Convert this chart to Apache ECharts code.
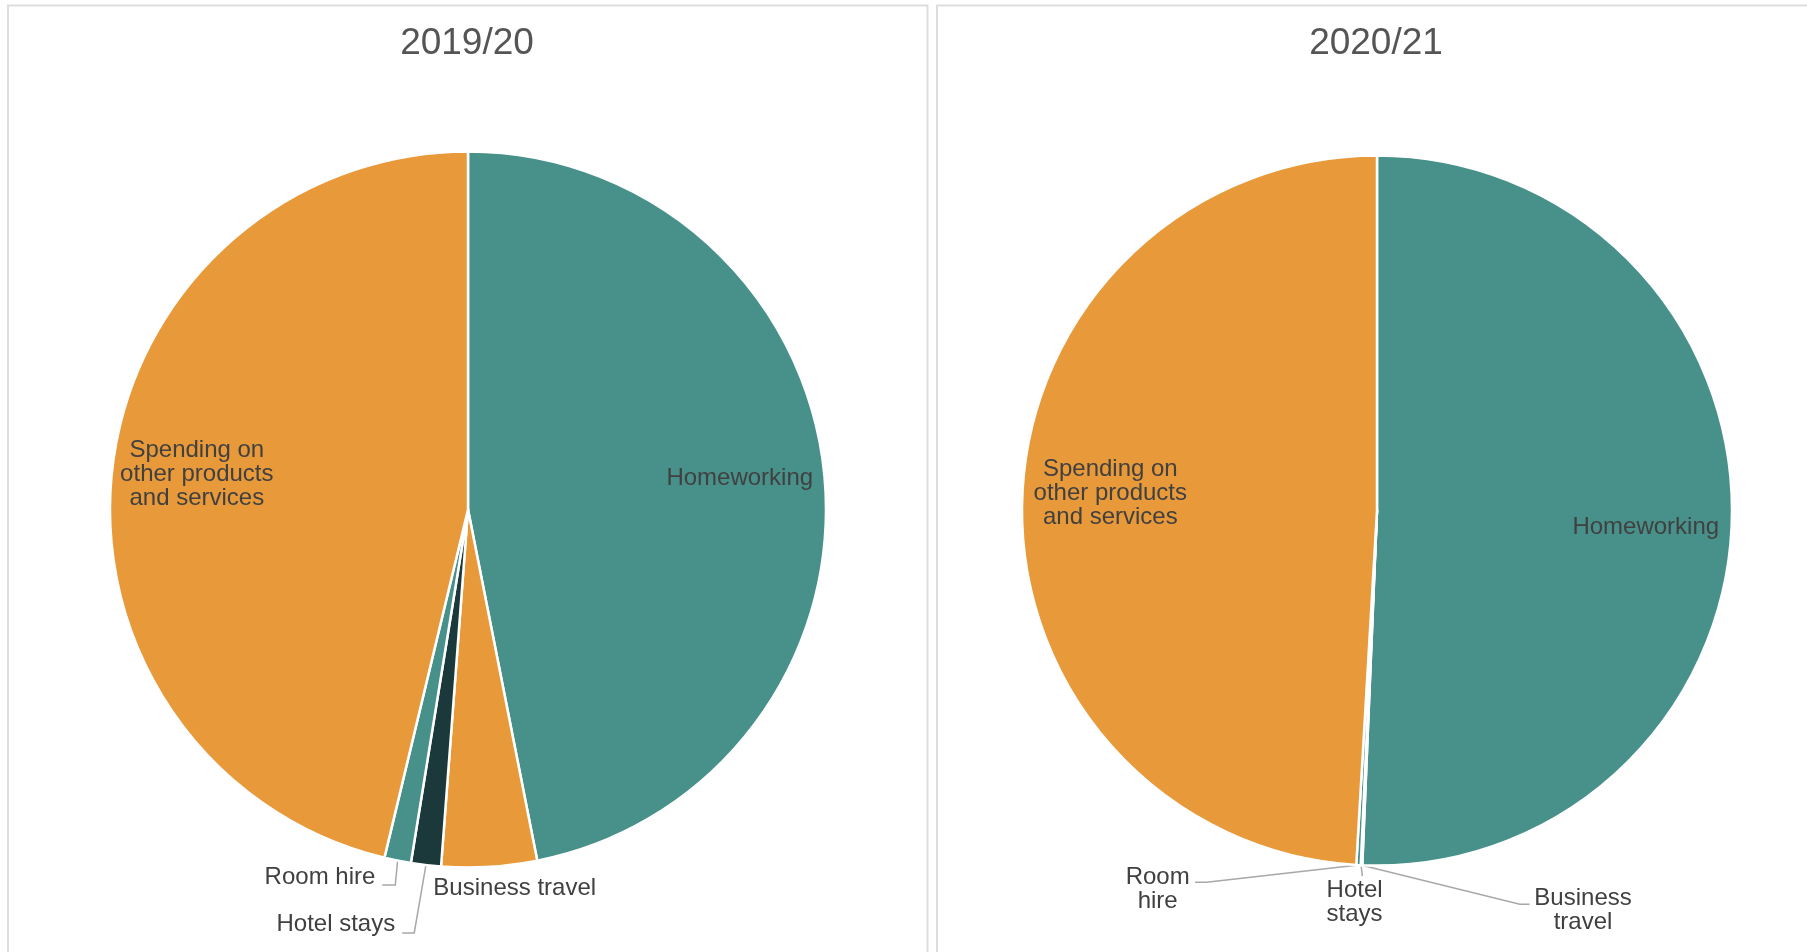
<!DOCTYPE html>
<html>
<head>
<meta charset="utf-8">
<script src="https://cdn.jsdelivr.net/npm/echarts@6/dist/echarts.min.js"></script>
<style>
html,body{margin:0;padding:0;background:#fff;}
#chart{width:1807px;height:952px;}
</style>
</head>
<body>
<div id="chart"></div>
<script>
// ---- data ----
const categories = ['Homeworking', 'Business travel', 'Hotel stays', 'Room hire', 'Spending on other products and services'];
const years = ['2019/20', '2020/21'];
const values2019 = [46.9, 4.3, 1.35, 1.2, 46.25];
const values2020 = [50.66, 0.04, 0.03, 0.2, 49.07];
const insideLabelNames = ['Homeworking', 'Spending on other products and services'];

// ---- style ----
const FONT = "'Liberation Sans', Arial, Helvetica, sans-serif";
const sliceColors = ['#48918b', '#e8993a', '#1b383a', '#48918b', '#e8993a'];
const pies = [
  { center: [468, 509.5], r: 358, panel: { x: 8, y: 5.5, w: 919.5 }, titleX: 467 },
  { center: [1377, 510.5], r: 355, panel: { x: 937, y: 5.5, w: 1000 }, titleX: 1376 }
];
// label-line geometry for the small slices, relative to the slice edge point
const outsidePlacement = [
  {
    'Business travel': { elbow: [0, 0], h: 0, t: [-56, 22], align: 'left' },
    'Hotel stays': { elbow: [-11.7, 67.9], h: -12, t: [-7, -8.6], align: 'right' },
    'Room hire': { elbow: [-2.3, 24.4], h: -13, t: [-7, -8], align: 'right' }
  },
  {
    'Business travel': { elbow: [158, 39], h: 9.7, t: [53.5, 6.5], align: 'center' },
    'Hotel stays': { elbow: [1.3, 11], h: 0, t: [-7.8, 26], align: 'center' },
    'Room hire': { elbow: [-152, 17.3], h: -11.5, t: [-37.3, 7.5], align: 'center' }
  }
];
// fine shifts of the inside labels
const insideShift = [
  { 'Homeworking': [-2, -4.5], 'Spending on other products and services': [2, -2.5] },
  { 'Homeworking': [-4, 11.5], 'Spending on other products and services': [6, -9] }
];

function displayText(name, yearIdx) {
  if (name.indexOf('Spending') === 0) return 'Spending on\nother products\nand services';
  if (yearIdx === 1) return name.replace(' ', '\n');
  return name;
}

const labelText = { color: '#404040', fontSize: 24, lineHeight: 24, fontFamily: FONT };
const allValues = [values2019, values2020];

const series = [];
const titles = [];
const graphics = [];

pies.forEach(function (p, i) {
  const vals = allValues[i];
  const mainData = categories.map(function (c, k) {
    const inside = insideLabelNames.indexOf(c) >= 0;
    return {
      name: c, value: vals[k],
      itemStyle: { color: sliceColors[k] },
      label: { show: !inside },
      labelLine: { show: !inside }
    };
  });
  const overlayData = categories.map(function (c, k) {
    const inside = insideLabelNames.indexOf(c) >= 0;
    return { name: c, value: vals[k], label: { show: inside } };
  });
  series.push({
    type: 'pie',
    center: p.center,
    radius: [0, p.r],
    startAngle: 90,
    clockwise: true,
    avoidLabelOverlap: false,
    animation: false,
    itemStyle: { borderColor: '#ffffff', borderWidth: 2.5 },
    emphasis: { disabled: true },
    label: Object.assign({
      position: 'outside',
      formatter: function (prm) { return displayText(prm.name, i); }
    }, labelText),
    labelLine: { length: 10, length2: 10, lineStyle: { color: '#a8a8a8', width: 1.5 } },
    labelLayout: function (prm) {
      const pl = outsidePlacement[i][categories[prm.dataIndex]];
      if (!pl || !prm.labelLinePoints) return {};
      const e = prm.labelLinePoints[0];
      const b = [e[0] + pl.elbow[0], e[1] + pl.elbow[1]];
      const c = [b[0] + pl.h, b[1]];
      return {
        x: c[0] + pl.t[0], y: c[1] + pl.t[1],
        align: pl.align, verticalAlign: 'middle',
        labelLinePoints: [e, b, c]
      };
    },
    data: mainData
  });
  series.push({
    type: 'pie',
    center: p.center,
    radius: [p.r * 0.52, p.r],
    startAngle: 90,
    clockwise: true,
    silent: true,
    animation: false,
    avoidLabelOverlap: false,
    itemStyle: { color: 'rgba(0,0,0,0)', borderWidth: 0 },
    emphasis: { disabled: true },
    label: Object.assign({
      position: 'inside',
      rotate: 0,
      align: 'center',
      formatter: function (prm) { return displayText(prm.name, i); }
    }, labelText),
    labelLine: { show: false },
    labelLayout: function (prm) {
      const s = insideShift[i][categories[prm.dataIndex]];
      return s ? { dx: s[0], dy: s[1] } : {};
    },
    data: overlayData
  });
  titles.push({
    text: years[i],
    left: p.titleX, top: 25.5, textAlign: 'center',
    padding: 0,
    textStyle: { fontSize: 37, fontWeight: 'normal', color: '#555555', fontFamily: FONT }
  });
  graphics.push({
    type: 'rect', silent: true, z: -1,
    shape: { x: p.panel.x, y: p.panel.y, width: p.panel.w, height: 1200 },
    style: { fill: 'none', stroke: '#dddddd', lineWidth: 2 }
  });
});

const chart = echarts.init(document.getElementById('chart'), null, { renderer: 'canvas' });
chart.setOption({
  backgroundColor: '#ffffff',
  animation: false,
  title: titles,
  graphic: graphics,
  series: series
});
</script>
</body>
</html>
